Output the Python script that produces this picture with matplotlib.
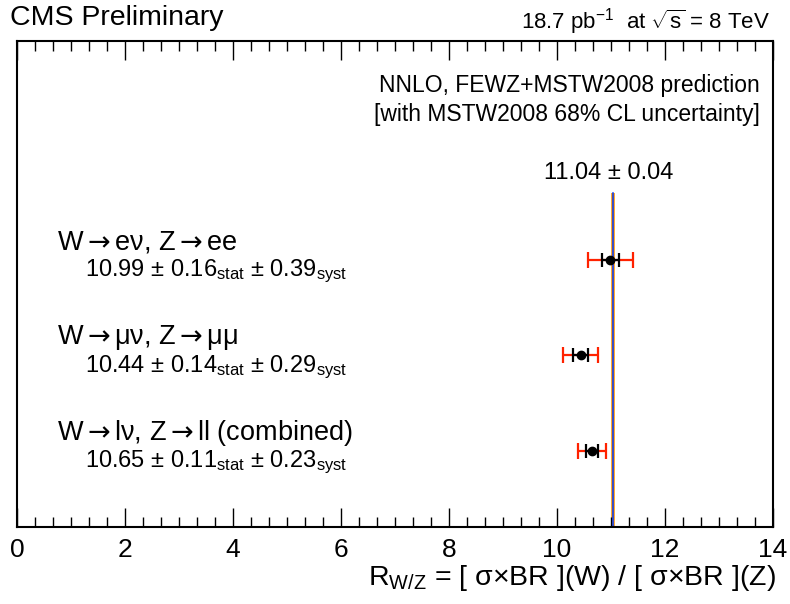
import matplotlib
matplotlib.use("Agg")
import matplotlib.pyplot as plt
from matplotlib.ticker import MultipleLocator

plt.rcParams["font.family"] = ["Liberation Sans", "DejaVu Sans"]
plt.rcParams["mathtext.fontset"] = "custom"
plt.rcParams["mathtext.rm"] = "Liberation Sans"
plt.rcParams["mathtext.it"] = "Liberation Sans"
plt.rcParams["mathtext.sf"] = "DejaVu Sans"

ARROW = r"$\mathsf{\rightarrow}$"

# measurements (top to bottom)
channels = ["W" + ARROW + "e\u03bd, Z" + ARROW + "ee",
            "W" + ARROW + "\u03bc\u03bd, Z" + ARROW + "\u03bc\u03bc",
            "W" + ARROW + "l\u03bd, Z" + ARROW + "ll (combined)"]
central = [10.99, 10.44, 10.65]
stat = [0.16, 0.14, 0.11]
syst = [0.39, 0.29, 0.23]
ypos = [3, 2, 1]

# theory prediction
theory = 11.04
theory_err = 0.04

total = [(a ** 2 + b ** 2) ** 0.5 for a, b in zip(stat, syst)]

fig = plt.figure(figsize=(7.9, 6.04), dpi=100)
ax = fig.add_axes([17 / 790, 77 / 604, 756 / 790, 486 / 604])
ax.set_xlim(0, 14)
ax.set_ylim(0.2, 5.3)

band_top = 3.7
ax.fill_betweenx([0.2, band_top], theory - theory_err, theory + theory_err,
                 color="#ffaa33", lw=0, zorder=1)
ax.plot([theory, theory], [0.2, band_top], color="#0033ee", lw=1.1, zorder=2)
ax.text(10.96, 3.91, f"{theory:.2f} \u00b1 {theory_err:.2f}", ha="center",
        va="center", fontsize=17)

ax.errorbar(central, ypos, xerr=total, fmt="none", ecolor="#ff2200",
            elinewidth=1.6, capsize=6, capthick=1.6, zorder=3)
ax.errorbar(central, ypos, xerr=stat, fmt="o", color="black", ms=6,
            elinewidth=1.6, capsize=5, capthick=1.6, zorder=4)

for name, c, s, sy, y in zip(channels, central, stat, syst, ypos):
    ax.text(0.74, y + 0.19, name, ha="left", va="center", fontsize=19.5)
    ax.text(1.26, y - 0.12,
            f"{c:.2f} \u00b1 {s:.2f}" + r"$_{\mathrm{stat}}$"
            + f" \u00b1 {sy:.2f}" + r"$_{\mathrm{syst}}$",
            ha="left", va="center", fontsize=17)

ax.text(0.983, 0.909, "NNLO, FEWZ+MSTW2008 prediction",
        transform=ax.transAxes, ha="right", va="center", fontsize=16.5)
ax.text(0.983, 0.848, "[with MSTW2008 68% CL uncertainty]",
        transform=ax.transAxes, ha="right", va="center", fontsize=16.5)

ax.xaxis.set_major_locator(MultipleLocator(2))
ax.xaxis.set_minor_locator(MultipleLocator(1 / 3))
ax.tick_params(axis="x", which="both", direction="in", top=True,
               bottom=True, labelsize=19, pad=8, width=1)
ax.tick_params(axis="x", which="major", length=14)
ax.tick_params(axis="x", which="minor", length=7)
ax.set_yticks([])
for sp in ax.spines.values():
    sp.set_linewidth(1.5)

fig.text(776 / 790, 1 - 578 / 604,
         r"R$_{\mathrm{W/Z}}$ = [ " + "\u03c3\u00d7BR ](W) / [ \u03c3\u00d7BR ](Z)",
         ha="right", va="center", fontsize=20.5)
fig.text(10 / 790, 1 - 18 / 604, "CMS Preliminary", ha="left",
         va="center", fontsize=20.5)
fig.text(770 / 790, 1 - 22 / 604,
         r"18.7 pb$^{-1}$  at $\sqrt{\mathrm{s}}$ = 8 TeV", ha="right",
         va="center", fontsize=16)

fig.savefig("out.png", dpi=100, facecolor="white")
